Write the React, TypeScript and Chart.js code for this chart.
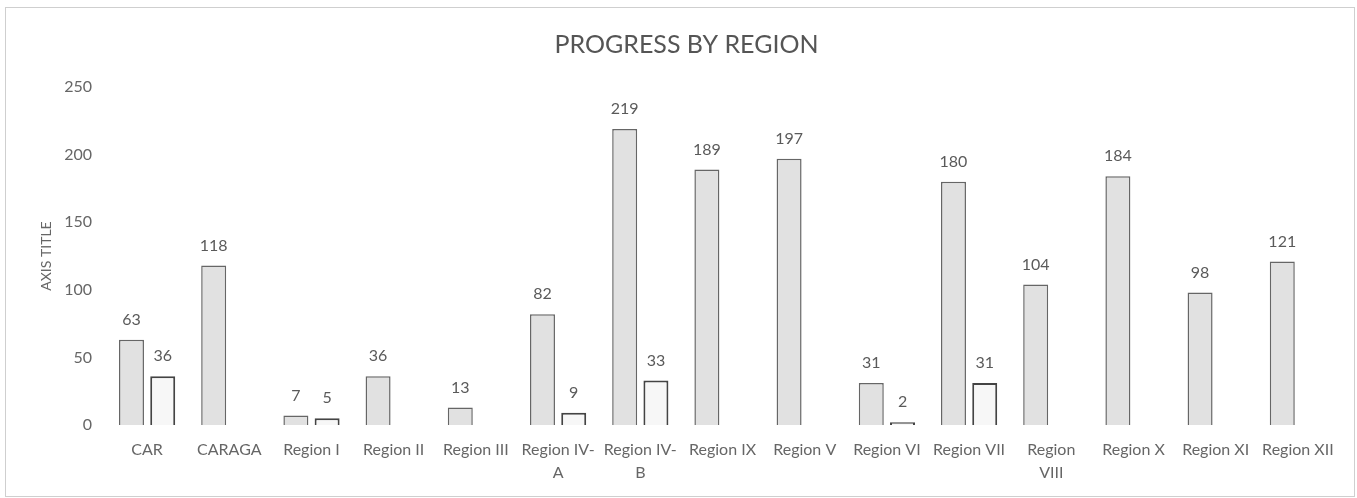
import React, { useEffect, useRef } from "react";
import { Chart, registerables } from "chart.js";

Chart.register(...registerables);

const categories = [
  "CAR", "CARAGA", "Region I", "Region II", "Region III", "Region IV-A", "Region IV-B",
  "Region IX", "Region V", "Region VI", "Region VII", "Region VIII", "Region X", "Region XI", "Region XII",
];
const tickLabels: (string | string[])[] = [
  "CAR", "CARAGA", "Region I", "Region II", "Region III", ["Region IV-", "A"], ["Region IV-", "B"],
  "Region IX", "Region V", "Region VI", "Region VII", ["Region", "VIII"], "Region X", "Region XI", "Region XII",
];
const seriesA: (number | null)[] = [63, 118, 7, 36, 13, 82, 219, 189, 197, 31, 180, 104, 184, 98, 121];
const seriesB: (number | null)[] = [36, null, 5, null, null, 9, 33, null, null, 2, 31, null, null, null, null];
const yTicks = [0, 50, 100, 150, 200, 250];

const FONT = "Lato, 'Open Sans', sans-serif";

const valueLabels = {
  id: "valueLabels",
  afterDatasetsDraw(chart: any) {
    const ctx = chart.ctx;
    ctx.save();
    ctx.font = `16px ${FONT}`;
    ctx.fillStyle = "#5a5a5a";
    ctx.textAlign = "center";
    ctx.textBaseline = "middle";
    chart.data.datasets.forEach((ds: any, i: number) => {
      const meta = chart.getDatasetMeta(i);
      meta.data.forEach((el: any, j: number) => {
        const v = ds.data[j];
        if (v === null || v === undefined) return;
        ctx.fillText(String(v), el.x, el.y - 20);
      });
    });
    ctx.restore();
  },
};

export default function App() {
  const ref = useRef<HTMLCanvasElement>(null);
  useEffect(() => {
    if (!ref.current) return;
    const chart = new Chart(ref.current, {
      type: "bar",
      data: {
        labels: tickLabels as any,
        datasets: [
          {
            label: "Series 1",
            data: seriesA,
            backgroundColor: "#e1e1e1",
            borderColor: "#666666",
            borderWidth: 1.5,
            categoryPercentage: 0.76,
            barPercentage: 0.8,
          },
          {
            label: "Series 2",
            data: seriesB,
            backgroundColor: "#f7f7f7",
            borderColor: "#444444",
            borderWidth: 2,
            categoryPercentage: 0.76,
            barPercentage: 0.8,
          },
        ],
      },
      options: {
        animation: false,
        responsive: true,
        maintainAspectRatio: false,
        layout: { padding: { top: 12, right: 15, bottom: 0, left: 28 } },
        plugins: {
          legend: { display: false },
          tooltip: { enabled: false },
          title: {
            display: true,
            text: "PROGRESS BY REGION",
            color: "#555555",
            font: { family: FONT, size: 25, weight: "normal", lineHeight: 1.2 },
            padding: { top: 10, bottom: 27 },
          },
        },
        scales: {
          x: {
            afterFit: (scale: any) => {
              scale.height = 71;
            },
            grid: { display: false, drawTicks: false },
            border: { display: false },
            ticks: {
              autoSkip: false,
              maxRotation: 0,
              minRotation: 0,
              padding: 13,
              color: "#666666",
              font: { family: FONT, size: 16, lineHeight: 1.44 },
            },
          },
          y: {
            min: 0,
            max: 250,
            afterBuildTicks: (scale: any) => {
              scale.ticks = yTicks.map((v) => ({ value: v }));
            },
            afterFit: (scale: any) => {
              scale.width = 72;
            },
            grid: { display: false, drawTicks: false },
            border: { display: false },
            title: {
              display: true,
              text: "AXIS TITLE",
              color: "#666666",
              font: { family: FONT, size: 14 },
              padding: { top: 4, bottom: 4 },
            },
            ticks: {
              padding: 14,
              color: "#666666",
              font: { family: FONT, size: 16 },
            },
          },
        },
      },
      plugins: [valueLabels],
    });
    return () => chart.destroy();
  }, []);

  return (
    <div
      style={{
        position: "absolute",
        left: 5,
        top: 7,
        width: 1350,
        height: 490,
        border: "1px solid #cfcfcf",
        boxSizing: "border-box",
        background: "#ffffff",
      }}
    >
      <canvas ref={ref} aria-label={categories.join(", ")} />
    </div>
  );
}
